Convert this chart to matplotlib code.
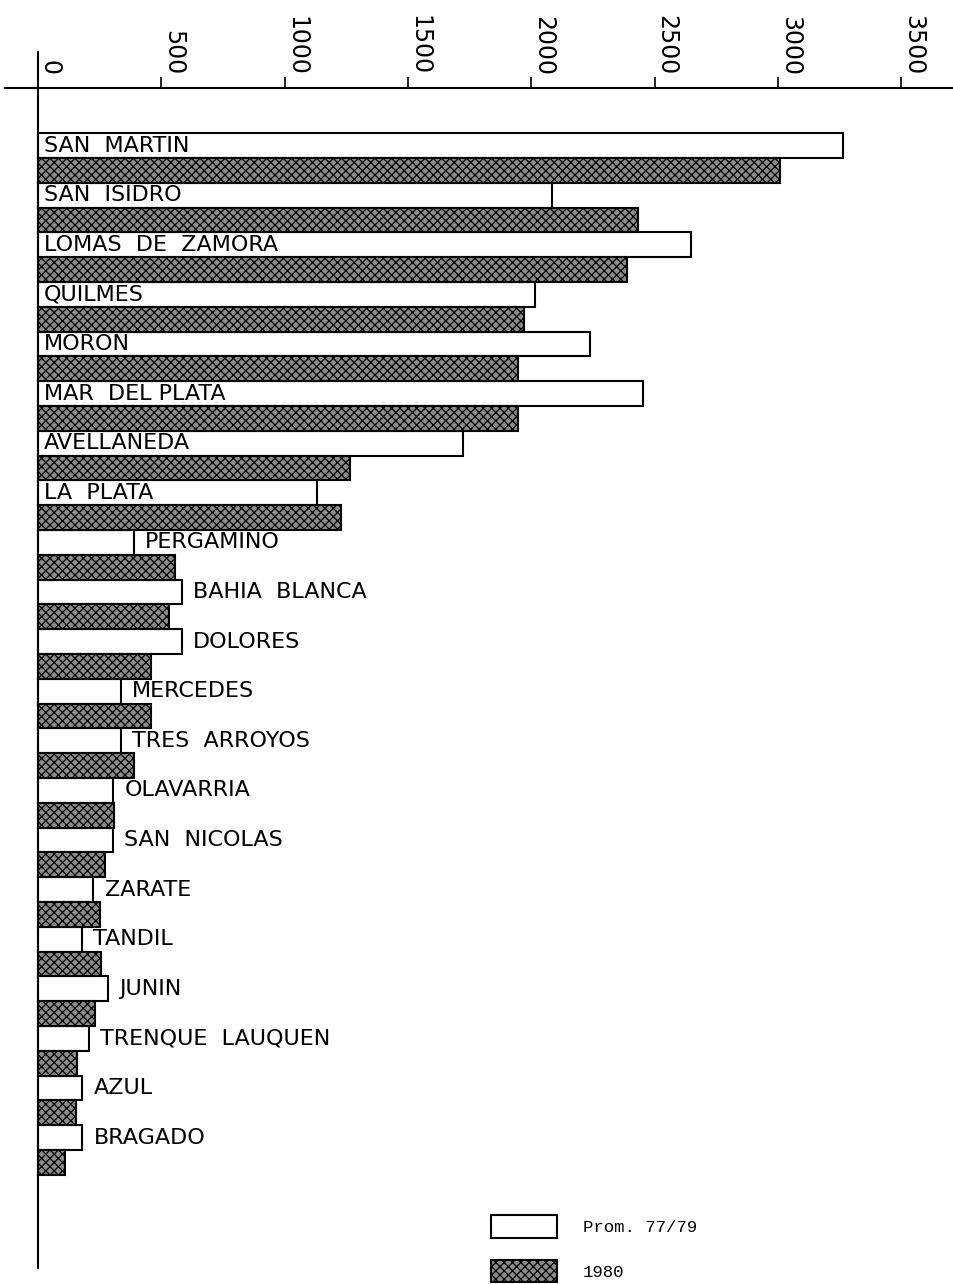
import numpy as np
import matplotlib
matplotlib.use("Agg")
import matplotlib.pyplot as plt

# Partidos de la Provincia de Buenos Aires
partidos = ["SAN  MARTIN", "SAN  ISIDRO", "LOMAS  DE  ZAMORA", "QUILMES", "MORON",
            "MAR  DEL PLATA", "AVELLANEDA", "LA  PLATA", "PERGAMINO", "BAHIA  BLANCA",
            "DOLORES", "MERCEDES", "TRES  ARROYOS", "OLAVARRIA", "SAN  NICOLAS",
            "ZARATE", "TANDIL", "JUNIN", "TRENQUE  LAUQUEN", "AZUL", "BRAGADO"]
prom_77_79 = [3265, 2085, 2650, 2015, 2240, 2455, 1725, 1130, 390, 585, 585,
              335, 335, 305, 305, 225, 180, 285, 205, 180, 180]
anio_1980 = [3010, 2435, 2390, 1970, 1945, 1945, 1265, 1230, 555, 530, 460,
             460, 390, 310, 270, 250, 255, 230, 160, 155, 110]
xticks = [0, 500, 1000, 1500, 2000, 2500, 3000, 3500]
leyenda = ["Prom. 77/79", "1980"]

W, H = 954, 1284
plt.rcParams['hatch.linewidth'] = 0.9

fig = plt.figure(figsize=(W / 100, H / 100), dpi=100)
ax = fig.add_axes([5 / W, (H - 1268) / H, (W - 5) / W, (1268 - 88) / H])

pos = np.arange(len(partidos))
b1 = ax.barh(pos - 0.25, prom_77_79, height=0.5, color='white',
             edgecolor='black', linewidth=1.5)
b2 = ax.barh(pos + 0.25, anio_1980, height=0.5, facecolor='#8c8c8c',
             edgecolor='black', hatch='xxxx', linewidth=1.5)

# labels: inside the long bars, to the right of the short ones
for i, name in enumerate(partidos):
    if prom_77_79[i] > 1000:
        ax.annotate(name, xy=(0, i - 0.25), xytext=(4, 0), textcoords='offset points',
                    va='center', ha='left', fontsize=16)
    else:
        ax.annotate(name, xy=(prom_77_79[i], i - 0.25), xytext=(8, 0),
                    textcoords='offset points', va='center', ha='left', fontsize=16)

px = 0.2466  # pixels per unit
ax.set_xlim(-33 / px, (W - 38) / px)
ax.set_ylim((1268 - 158) / 49.6, (88 - 158) / 49.6)

ax.xaxis.tick_top()
ax.set_xticks(xticks)
ax.set_xticklabels([str(t) for t in xticks])
ax.tick_params(axis='x', direction='out', length=8, width=1.2, labelsize=17,
               pad=1, labelrotation=-90)
plt.setp(ax.get_xticklabels(), ha='left', va='bottom')
ax.set_yticks([])

for s in ['left', 'right', 'bottom']:
    ax.spines[s].set_visible(False)
ax.spines['top'].set_linewidth(1.5)
ax.axvline(0, ymin=0, ymax=1 + 36 / 1180, color='black', lw=1.5, clip_on=False)

ax.legend([b1, b2], leyenda, loc='lower left', bbox_to_anchor=(491 / W, 2 / H),
          bbox_transform=fig.transFigure, frameon=False,
          prop=dict(family='Liberation Mono', size=12.5),
          handlelength=3.8, handleheight=1.6, labelspacing=1.27,
          handletextpad=1.5, borderpad=0, borderaxespad=0)

fig.savefig("out.png", dpi=100)
